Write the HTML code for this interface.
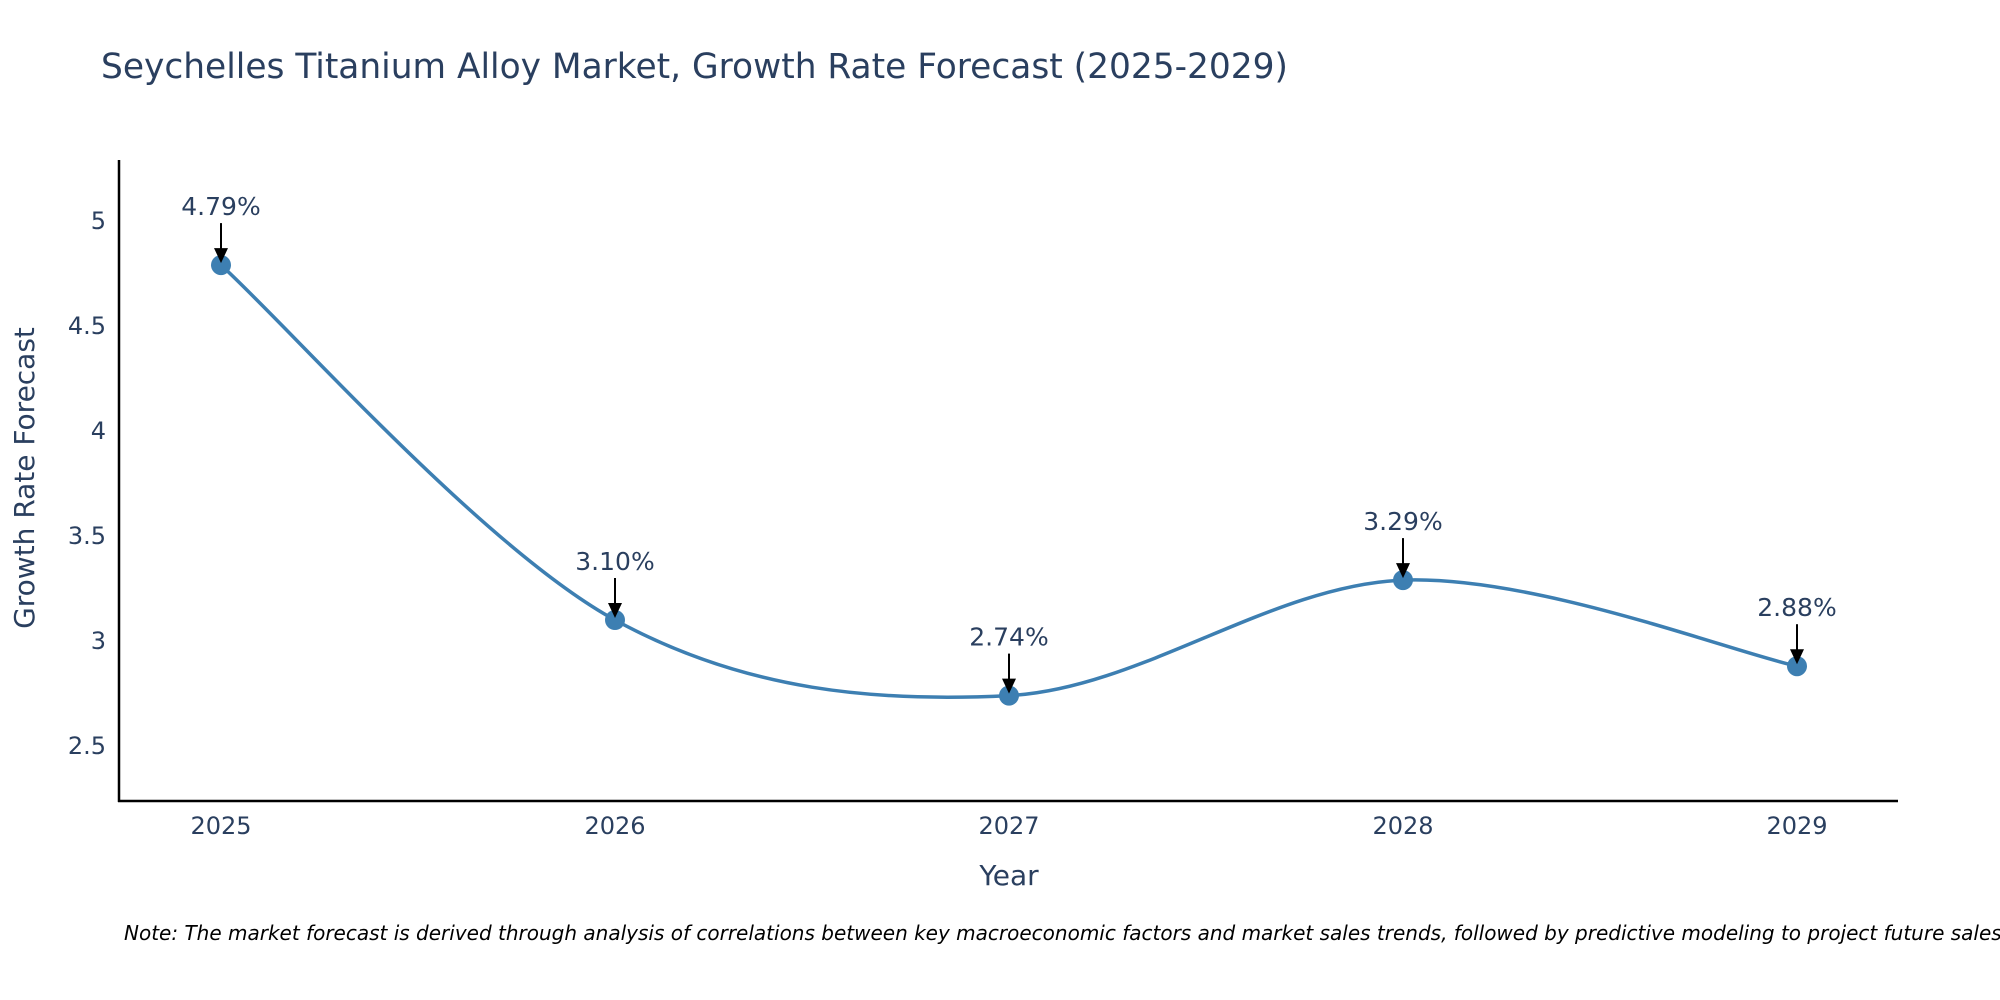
<!DOCTYPE html>
<html><head><meta charset="utf-8"><style>
body{margin:0;background:#fff;}
svg{display:block;font-family:"DejaVu Sans","Liberation Sans",sans-serif;}
</style></head><body>
<svg id="chart" width="2000" height="1000" viewBox="0 0 2000 1000">
<rect width="2000" height="1000" fill="#fff"/>
<text x="101" y="78" font-size="34.4" fill="#2a3f5f">Seychelles Titanium Alloy Market, Growth Rate Forecast (2025-2029)</text>
<g id="ticks"></g>
<path id="curve" fill="none" stroke="#3d7fb2" stroke-width="3.5"/>
<g id="marks"></g>
<line x1="119" y1="160" x2="119" y2="802" stroke="#000" stroke-width="2.5"/>
<line x1="118" y1="801" x2="1898" y2="801" stroke="#000" stroke-width="2.5"/>
<text transform="translate(34,478) rotate(-90)" text-anchor="middle" font-size="28" fill="#2a3f5f">Growth Rate Forecast</text>
<text x="1009" y="885" text-anchor="middle" font-size="28" fill="#2a3f5f">Year</text>
<text x="124" y="940" font-size="20" font-style="italic" fill="#000">Note: The market forecast is derived through analysis of correlations between key macroeconomic factors and market sales trends, followed by predictive modeling to project future sales.</text>
</svg>
<script>
const years=[2025,2026,2027,2028,2029];
const values=[4.79,3.10,2.74,3.29,2.88];
const labels=["4.79%","3.10%","2.74%","3.29%","2.88%"];
const yTicks=[2.5,3,3.5,4,4.5,5];
const yTickLabels=["2.5","3","3.5","4","4.5","5"];
const NS="http://www.w3.org/2000/svg";
function xs(yr){return 221+(yr-2025)*394;}
function ys(v){return 221+(5-v)*210;}
function mk(tag,attrs,parent,text){const e=document.createElementNS(NS,tag);for(const k in attrs)e.setAttribute(k,attrs[k]);if(text!==undefined)e.textContent=text;parent.appendChild(e);return e;}
const tg=document.getElementById('ticks');
yTicks.forEach((t,i)=>{
 const e=mk('text',{x:106,y:ys(t)+8,'text-anchor':'end','font-size':24,fill:'#2a3f5f'},tg,yTickLabels[i]);
 
 
});
years.forEach(yr=>{
 const e=mk('text',{x:xs(yr),y:834,'text-anchor':'middle','font-size':24,fill:'#2a3f5f'},tg,String(yr));
 
 
});
const pts=years.map((y,i)=>[xs(y),ys(values[i])]);
let d='M'+pts[0][0]+','+pts[0][1];
for(let i=0;i<pts.length-1;i++){
 const p0=pts[Math.max(0,i-1)],p1=pts[i],p2=pts[i+1],p3=pts[Math.min(pts.length-1,i+2)];
 const t=1/6;
 const c1=[p1[0]+(p2[0]-p0[0])*t,p1[1]+(p2[1]-p0[1])*t];
 const c2=[p2[0]-(p3[0]-p1[0])*t,p2[1]-(p3[1]-p1[1])*t];
 d+=' C'+c1+' '+c2+' '+p2;
}
document.getElementById('curve').setAttribute('d',d);
const mg=document.getElementById('marks');
pts.forEach((p,i)=>{
 const c=mk('circle',{cx:p[0],cy:p[1],r:10,fill:'#3d7fb2'},mg);
 
 
 const l=mk('line',{x1:p[0],y1:p[1]-42,x2:p[0],y2:p[1]-14,stroke:'#000','stroke-width':2},mg);
 
 
 const h=mk('polygon',{points:(p[0]-7)+','+(p[1]-17)+' '+(p[0]+7)+','+(p[1]-17)+' '+p[0]+','+(p[1]-2),fill:'#000'},mg);
 
 
 const t=mk('text',{x:p[0],y:p[1]-50,'text-anchor':'middle','font-size':25,fill:'#2a3f5f'},mg,labels[i]);
 
 
});
</script>
</body></html>
